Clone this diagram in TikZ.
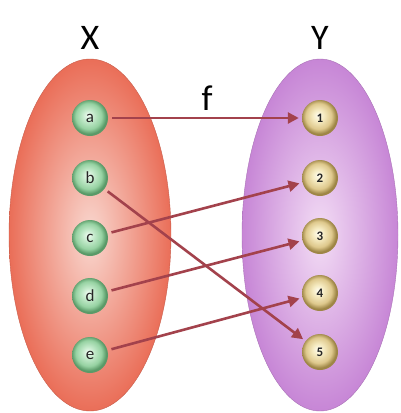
\documentclass[tikz,border=0pt]{standalone}
\usepackage{fontspec}
\setmainfont{Carlito}
\usetikzlibrary{arrows.meta,shapes.geometric}
\definecolor{arrowc}{HTML}{A3424C}
\definecolor{redout}{HTML}{EA6E58}
\definecolor{redin}{HTML}{F9D8D0}
\definecolor{vioout}{HTML}{C786D6}
\definecolor{vioin}{HTML}{F3DDF5}
\definecolor{gA}{HTML}{F2FCF4}
\definecolor{gB}{HTML}{C4EACB}
\definecolor{gC}{HTML}{96D2A2}
\definecolor{gD}{HTML}{5A9A68}
\definecolor{yA}{HTML}{FFFDF0}
\definecolor{yB}{HTML}{F5EAC0}
\definecolor{yC}{HTML}{DEC88C}
\definecolor{yD}{HTML}{9E8646}
\pgfdeclareradialshading{greenballshade}{\pgfpoint{-3bp}{4bp}}{color(0bp)=(gA); color(8bp)=(gB); color(18bp)=(gC); color(24bp)=(gD); color(50bp)=(gD)}
\pgfdeclareradialshading{goldballshade}{\pgfpoint{-3bp}{4bp}}{color(0bp)=(yA); color(8bp)=(yB); color(18bp)=(yC); color(24bp)=(yD); color(50bp)=(yD)}
\tikzset{
  setx/.style={ellipse, minimum width=162pt, minimum height=352pt, inner color=redin, outer color=redout, draw=redout!85!black, line width=0.4pt},
  sety/.style={ellipse, minimum width=156pt, minimum height=352pt, inner color=vioin, outer color=vioout, draw=vioout!85!black, line width=0.4pt},
  gball/.style={circle, minimum size=36pt, inner sep=0pt, shading=greenballshade, text=black!85, font=\fontsize{17}{17}\selectfont},
  yball/.style={circle, minimum size=36pt, inner sep=0pt, shading=goldballshade, text=black!85, font=\bfseries\fontsize{13}{13}\selectfont},
  title/.style={font=\fontsize{36}{36}\selectfont},
  maparrow/.style={draw=arrowc, line width=2.6pt, -{Triangle[length=11pt,width=11pt]}, shorten <=4pt, shorten >=3pt}
}
\begin{document}
\begin{tikzpicture}[x=1pt,y=-1pt]
\useasboundingbox (0,0) rectangle (401,413);
\node[setx] (X) at (90,235) {};
\node[sety] (Y) at (320,235) {};
\node[title] (tx) at (90,38) {X};
\node[title] (ty) at (320,38) {Y};
\node[title] (tf) at (207,98) {f};
\node[gball] (a) at (90,118) {a};
\node[gball] (b) at (90,178) {b};
\node[gball] (c) at (90,238) {c};
\node[gball] (d) at (90,296) {d};
\node[gball] (e) at (90,355) {e};
\node[yball] (n1) at (320,118) {1};
\node[yball] (n2) at (320,178) {2};
\node[yball] (n3) at (320,236) {3};
\node[yball] (n4) at (320,293) {4};
\node[yball] (n5) at (320,352) {5};
\draw[maparrow] (a) -- (n1);
\draw[maparrow] (b) -- (n5);
\draw[maparrow] (c) -- (n2);
\draw[maparrow] (d) -- (n3);
\draw[maparrow] (e) -- (n4);
\end{tikzpicture}
\end{document}
